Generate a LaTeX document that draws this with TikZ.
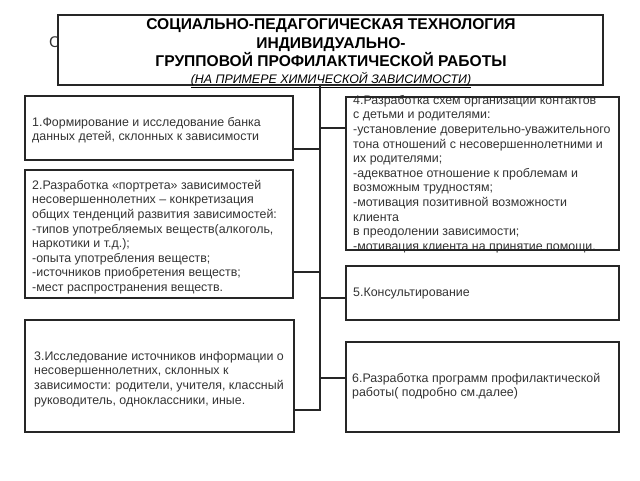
\documentclass[tikz,border=0pt]{standalone}
\usepackage{fontspec}
\setmainfont{Liberation Sans}
\definecolor{lin}{HTML}{262626}
\definecolor{txt}{HTML}{333333}
\begin{document}
\begin{tikzpicture}[x=1pt,y=-1pt,
  box/.style={draw=lin,line width=1.8pt,rectangle,inner sep=0pt},
  body/.style={text=txt,align=left,inner sep=0pt,font=\fontsize{12.4}{14.6}\selectfont},
  conn/.style={draw=lin,line width=1.8pt}]
\useasboundingbox (0,0) rectangle (640,480);
% partially hidden letter behind title
\node[anchor=west,inner sep=0pt,text=txt,font=\fontsize{15.5}{18}\selectfont] (hid) at (49,42) {С};
% title
\node[box,fill=white,minimum width=545,minimum height=70] (title) at (330.5,50) {};
\node[align=center,inner sep=0pt,text=black,font=\fontsize{15.6}{18.5}\selectfont\bfseries] (titletext) at (331,53.5)
  {СОЦИАЛЬНО-ПЕДАГОГИЧЕСКАЯ ТЕХНОЛОГИЯ\\
   ИНДИВИДУАЛЬНО-\\
   ГРУППОВОЙ ПРОФИЛАКТИЧЕСКОЙ РАБОТЫ\\[-2pt]
   {\fontsize{12.4}{18.5}\selectfont\mdseries\underline{\textit{(НА ПРИМЕРЕ ХИМИЧЕСКОЙ ЗАВИСИМОСТИ)}}}};
% left boxes
\node[box,minimum width=268,minimum height=64] (b1) at (159,128) {};
\node[body,anchor=west] (b1t) at (32,130) {1.Формирование и исследование банка\\данных детей, склонных к зависимости};
\node[box,minimum width=268,minimum height=128] (b2) at (159,234) {};
\node[body,anchor=west] (b2t) at (32,237) {2.Разработка «портрета» зависимостей\\несовершеннолетних – конкретизация\\общих тенденций развития зависимостей:\\-типов употребляемых веществ(алкоголь,\\наркотики и т.д.);\\-опыта употребления веществ;\\-источников приобретения веществ;\\-мест распространения веществ.};
\node[box,minimum width=269,minimum height=112] (b3) at (159.5,376) {};
\node[body,anchor=west] (b3t) at (34,379) {3.Исследование источников информации о\\несовершеннолетних, склонных к\\зависимости: родители, учителя, классный\\руководитель, одноклассники, иные.};
% right boxes
\node[body,anchor=west] (b4t) at (353,174) {4.Разработка схем организации контактов\\с детьми и родителями:\\-установление доверительно-уважительного\\тона отношений с несовершеннолетними и\\их родителями;\\-адекватное отношение к проблемам и\\возможным трудностям;\\-мотивация позитивной возможности\\клиента\\в преодолении зависимости;\\-мотивация клиента на принятие помощи.};
\node[box,minimum width=273,minimum height=153] (b4) at (482.5,173.5) {};
\node[box,minimum width=273,minimum height=54] (b5) at (482.5,293) {};
\node[body,anchor=west] (b5t) at (353,294) {5.Консультирование};
\node[box,minimum width=273,minimum height=90] (b6) at (482.5,387) {};
\node[body,anchor=west] (b6t) at (352,386) {6.Разработка программ профилактической\\работы( подробно см.далее)};
% trunk and junctions
\coordinate (tk) at (320,85);
\coordinate (j1) at (320,149);
\coordinate (j4) at (320,128);
\coordinate (j2) at (320,272);
\coordinate (j5) at (320,298);
\coordinate (j6) at (320,378);
\coordinate (j3) at (320,410);
\draw[conn] (title.south -| tk) -- (j3);
\draw[conn] (b1.east |- j1) -- (j1);
\draw[conn] (j4) -- (b4.west |- j4);
\draw[conn] (b2.east |- j2) -- (j2);
\draw[conn] (j5) -- (b5.west |- j5);
\draw[conn] (j6) -- (b6.west |- j6);
\draw[conn,line cap=rect] (b3.east |- j3) -- (j3);
\end{tikzpicture}
\end{document}
